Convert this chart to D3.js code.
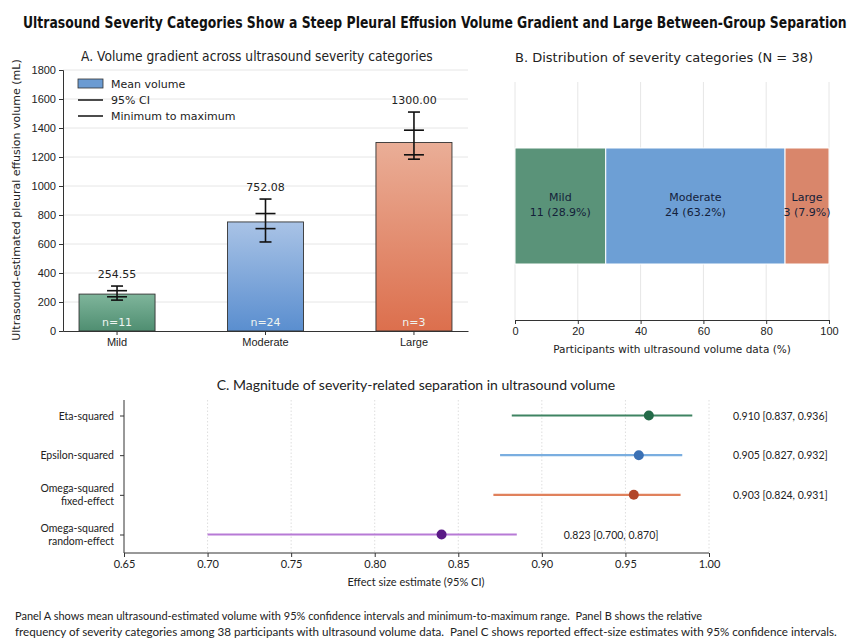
<!DOCTYPE html>
<html>
<head>
<meta charset="utf-8">
<script src="https://d3js.org/d3.v7.min.js"></script>
<style>
  body { margin: 0; background: #fff; }
  svg { display: block; font-family: "DejaVu Sans", sans-serif; }
  .grid line { stroke: #e6e6e6; }
  .axis path, .axis line { stroke: #333; }
  .axis text { fill: #222; }
</style>
</head>
<body>
<div id="chart"></div>
<script>
// Panel A data
const categories = ['Mild', 'Moderate', 'Large'];
const counts = [11, 24, 3];
const meanVolume = [254.55, 752.08, 1300.00];
const ciLow = [236, 706, 1215];
const ciHigh = [278, 810, 1385];
const rangeMin = [213, 614, 1185];
const rangeMax = [310, 910, 1510];
const yTicksA = [0, 200, 400, 600, 800, 1000, 1200, 1400, 1600, 1800];

// Panel B data (segment widths as drawn, labels as printed)
const segmentShare = [28.9, 57.1, 14.0];
const segmentLabels = ['11 (28.9%)', '24 (63.2%)', '3 (7.9%)'];
const xTicksB = [0, 20, 40, 60, 80, 100];

// Panel C data
const effectNames = [['Eta-squared'], ['Epsilon-squared'], ['Omega-squared', 'fixed-effect'], ['Omega-squared', 'random-effect']];
const effectPoint = [0.964, 0.958, 0.955, 0.840];
const effectLow = [0.882, 0.875, 0.871, 0.700];
const effectHigh = [0.990, 0.984, 0.983, 0.885];
const effectText = ['0.910 [0.837, 0.936]', '0.905 [0.827, 0.932]', '0.903 [0.824, 0.931]', '0.823 [0.700, 0.870]'];
const xTicksC = [0.65, 0.70, 0.75, 0.80, 0.85, 0.90, 0.95, 1.00];

const barTop = ['#7fb59b', '#a9c3e6', '#eaae97'];
const barBottom = ['#4f8e71', '#5a8ecf', '#dc6f4d'];
const segColors = ['#5a9379', '#6d9fd5', '#d9866b'];
const lineColors = ['#3f8462', '#7aaee0', '#e0815c', '#b77ad6'];
const dotColors = ['#236a48', '#3a70b4', '#b2472a', '#5a1a86'];

const svg = d3.select('#chart').append('svg')
    .attr('width', 860).attr('height', 639);

// scale a text horizontally so it spans the given width
function fitText(sel, x, y, width) {
    const w = sel.node().getComputedTextLength();
    const k = width / w;
    sel.attr('x', 0).attr('y', 0)
        .attr('transform', 'translate(' + x + ',' + y + ') scale(' + k + ',1)');
}

const defs = svg.append('defs');
categories.forEach(function(c, i) {
    const g = defs.append('linearGradient').attr('id', 'grad' + i)
        .attr('x1', 0).attr('y1', 0).attr('x2', 0).attr('y2', 1);
    g.append('stop').attr('offset', '0%').attr('stop-color', barTop[i]);
    g.append('stop').attr('offset', '100%').attr('stop-color', barBottom[i]);
});

// Main title
const title = svg.append('text')
    .style('font-size', '16px').style('font-weight', 'bold').style('fill', '#111')
    .text('Ultrasound Severity Categories Show a Steep Pleural Effusion Volume Gradient and Large Between-Group Separation');
fitText(title, 23, 28, 824);

// ---------- Panel A ----------
const xA = d3.scaleBand().domain(categories).range([63, 468]).paddingInner(0.488).paddingOuter(0.108);
const yA = d3.scaleLinear().domain([0, 1800]).range([331, 70]);

svg.append('g').attr('class', 'grid')
    .selectAll('line').data(yTicksA.slice(1)).enter().append('line')
    .attr('x1', 63).attr('x2', 468)
    .attr('y1', d => yA(d)).attr('y2', d => yA(d));

const titleA = svg.append('text')
    .style('font-size', '14px').style('fill', '#222')
    .text('A. Volume gradient across ultrasound severity categories');
fitText(titleA, 81, 61, 352);

const yAxisA = svg.append('g').attr('class', 'axis')
    .attr('transform', 'translate(63,0)')
    .call(d3.axisLeft(yA).tickValues(yTicksA).tickFormat(d3.format('d')).tickSize(4).tickPadding(3));
yAxisA.selectAll('text').style('font-size', '11px');

const xAxisA = svg.append('g').attr('class', 'axis')
    .attr('transform', 'translate(0,331)')
    .call(d3.axisBottom(xA).tickSize(4).tickPadding(3).tickSizeOuter(0));
xAxisA.selectAll('text').style('font-size', '11px');

svg.append('text')
    .attr('transform', 'translate(20,200) rotate(-90)')
    .attr('text-anchor', 'middle')
    .style('font-size', '11px').style('fill', '#222')
    .text('Ultrasound-estimated pleural effusion volume (mL)');

const barsA = svg.append('g');
barsA.selectAll('rect').data(categories).enter().append('rect')
    .attr('x', d => xA(d))
    .attr('y', (d, i) => yA(meanVolume[i]))
    .attr('width', xA.bandwidth())
    .attr('height', (d, i) => yA(0) - yA(meanVolume[i]))
    .attr('fill', (d, i) => 'url(#grad' + i + ')')
    .attr('stroke', '#333').attr('stroke-width', 0.9);

// error bars
const cx = d => xA(d) + xA.bandwidth() / 2;
const errA = svg.append('g').attr('stroke', '#111').attr('stroke-width', 1.6);
categories.forEach(function(c, i) {
    errA.append('line').attr('x1', cx(c)).attr('x2', cx(c))
        .attr('y1', yA(rangeMin[i])).attr('y2', yA(rangeMax[i]));
    [rangeMin[i], rangeMax[i]].forEach(function(v) {
        errA.append('line').attr('x1', cx(c) - 6).attr('x2', cx(c) + 6)
            .attr('y1', yA(v)).attr('y2', yA(v));
    });
    [ciLow[i], ciHigh[i]].forEach(function(v) {
        errA.append('line').attr('x1', cx(c) - 10).attr('x2', cx(c) + 10)
            .attr('y1', yA(v)).attr('y2', yA(v));
    });
});

svg.append('g').selectAll('text').data(categories).enter().append('text')
    .attr('x', d => cx(d))
    .attr('y', (d, i) => yA(rangeMax[i]) - 8)
    .attr('text-anchor', 'middle')
    .style('font-size', '11px').style('fill', '#222')
    .text((d, i) => meanVolume[i].toFixed(2));

svg.append('g').selectAll('text').data(categories).enter().append('text')
    .attr('x', d => cx(d)).attr('y', 326)
    .attr('text-anchor', 'middle')
    .style('font-size', '11px').style('fill', '#eef4f0')
    .text((d, i) => 'n=' + counts[i]);

// legend
const legA = svg.append('g');
legA.append('rect').attr('x', 78).attr('y', 79).attr('width', 25).attr('height', 9)
    .attr('fill', '#6b9bd2').attr('stroke', '#333').attr('stroke-width', 0.8);
legA.append('line').attr('x1', 78).attr('x2', 103).attr('y1', 100).attr('y2', 100)
    .attr('stroke', '#111').attr('stroke-width', 1.5);
legA.append('line').attr('x1', 78).attr('x2', 103).attr('y1', 116).attr('y2', 116)
    .attr('stroke', '#111').attr('stroke-width', 1.5);
[['Mean volume', 88], ['95% CI', 104], ['Minimum to maximum', 120]].forEach(function(t) {
    legA.append('text').attr('x', 111).attr('y', t[1])
        .style('font-size', '11px').style('fill', '#222').text(t[0]);
});

// ---------- Panel B ----------
const xB = d3.scaleLinear().domain([0, 100]).range([515, 829]);
const cum = d3.cumsum(segmentShare);

svg.append('text')
    .attr('x', 515).attr('y', 62)
    .style('font-size', '13px').style('fill', '#222')
    .text('B. Distribution of severity categories (N = 38)');

svg.append('g').attr('class', 'grid')
    .selectAll('line').data(xTicksB).enter().append('line')
    .attr('x1', d => xB(d)).attr('x2', d => xB(d))
    .attr('y1', 82).attr('y2', 320);

svg.append('g').selectAll('rect').data(segmentShare).enter().append('rect')
    .attr('x', (d, i) => xB(cum[i] - d))
    .attr('y', 148)
    .attr('width', d => xB(d) - xB(0))
    .attr('height', 116)
    .attr('fill', (d, i) => segColors[i])
    .attr('stroke', '#fff').attr('stroke-width', 1);

const segText = svg.append('g');
segmentShare.forEach(function(d, i) {
    const mx = xB(cum[i] - d / 2);
    segText.append('text').attr('x', mx).attr('y', 201).attr('text-anchor', 'middle')
        .style('font-size', '11px').style('fill', '#14213a').text(categories[i]);
    segText.append('text').attr('x', mx).attr('y', 216).attr('text-anchor', 'middle')
        .style('font-size', '11px').style('fill', '#14213a').text(segmentLabels[i]);
});

const xAxisB = svg.append('g').attr('class', 'axis')
    .attr('transform', 'translate(0,320)')
    .call(d3.axisBottom(xB).tickValues(xTicksB).tickSize(4).tickPadding(3).tickSizeOuter(0));
xAxisB.selectAll('text').style('font-size', '11px');

svg.append('text')
    .attr('x', 672).attr('y', 353).attr('text-anchor', 'middle')
    .style('font-size', '10.5px').style('fill', '#222')
    .text('Participants with ultrasound volume data (%)');

// ---------- Panel C ----------
const xC = d3.scaleLinear().domain([0.65, 1.00]).range([124, 709]);
const yC = d3.scalePoint().domain(d3.range(effectNames.length)).range([415.5, 534.5]);

svg.append('text')
    .attr('x', 416).attr('y', 390).attr('text-anchor', 'middle')
    .style('font-family', 'Lato, sans-serif')
    .style('font-size', '14px').style('fill', '#222')
    .text('C. Magnitude of severity-related separation in ultrasound volume');

svg.append('g')
    .selectAll('line').data(xTicksC.slice(1)).enter().append('line')
    .attr('x1', d => xC(d)).attr('x2', d => xC(d))
    .attr('y1', 400).attr('y2', 553)
    .attr('stroke', '#dedede').attr('stroke-dasharray', '1.5,2');

const xAxisC = svg.append('g').attr('class', 'axis')
    .attr('transform', 'translate(0,553)')
    .call(d3.axisBottom(xC).tickValues(xTicksC).tickFormat(d3.format('.2f')).tickSize(4).tickPadding(3));
xAxisC.selectAll('text').style('font-family', 'Lato, sans-serif').style('font-size', '11px');
xAxisC.select('.domain').attr('d', 'M124,0H709');

const yAxisC = svg.append('g').attr('class', 'axis')
    .attr('transform', 'translate(124,0)')
    .call(d3.axisLeft(yC).tickSize(4).tickFormat(''));
yAxisC.select('.domain').attr('d', 'M0,400V553');

const yLabC = svg.append('g').style('font-family', 'Lato, sans-serif').style('font-size', '10.5px').style('fill', '#222');
effectNames.forEach(function(lines, i) {
    const t = yLabC.append('text').attr('text-anchor', 'end').attr('x', 114)
        .attr('y', yC(i) + 4 - (lines.length - 1) * 6.5);
    lines.forEach(function(l, j) {
        t.append('tspan').attr('x', 114).attr('dy', j === 0 ? 0 : 13).text(l);
    });
});

const forest = svg.append('g');
effectPoint.forEach(function(p, i) {
    forest.append('line')
        .attr('x1', xC(effectLow[i])).attr('x2', xC(effectHigh[i]))
        .attr('y1', yC(i)).attr('y2', yC(i))
        .attr('stroke', lineColors[i]).attr('stroke-width', 2.2);
    forest.append('circle')
        .attr('cx', xC(p)).attr('cy', yC(i)).attr('r', 5)
        .attr('fill', dotColors[i]);
    forest.append('text')
        .attr('x', i === 3 ? xC(effectHigh[i]) + 47 : 733)
        .attr('y', yC(i) + 4)
        .style('font-family', 'Lato, sans-serif').style('font-size', '10.5px').style('fill', '#222')
        .text(effectText[i]);
});

svg.append('text')
    .attr('x', 416).attr('y', 586).attr('text-anchor', 'middle')
    .style('font-family', 'Lato, sans-serif').style('font-size', '11px').style('fill', '#222')
    .text('Effect size estimate (95% CI)');

// footer
const footer = ['Panel A shows mean ultrasound-estimated volume with 95% confidence intervals and minimum-to-maximum range.  Panel B shows the relative',
    'frequency of severity categories among 38 participants with ultrasound volume data.  Panel C shows reported effect-size estimates with 95% confidence intervals.'];
footer.forEach(function(line, i) {
    const t = svg.append('text')
        .attr('xml:space', 'preserve')
        .style('font-family', 'Lato, sans-serif').style('font-size', '11px').style('fill', '#222')
        .text(line);
    fitText(t, 15, 620 + i * 16, i === 0 ? 688 : 823);
});
</script>
</body>
</html>
